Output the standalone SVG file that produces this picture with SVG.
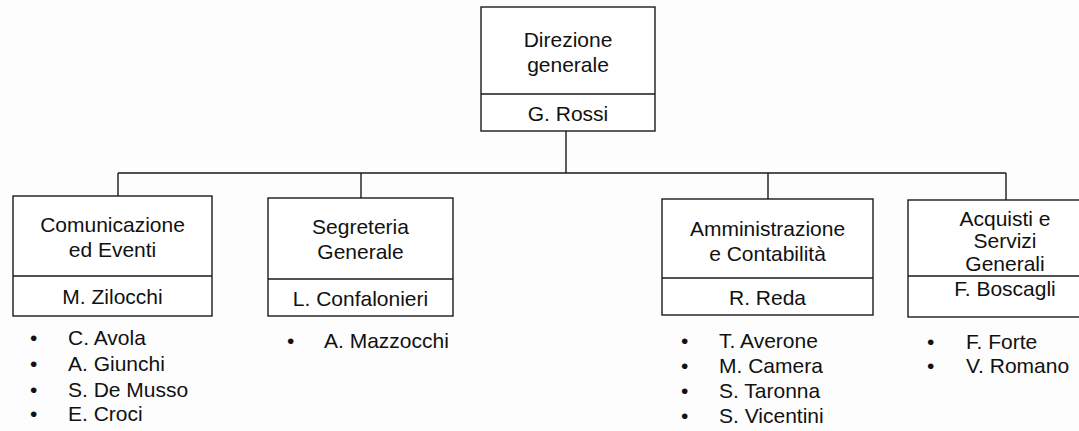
<svg xmlns="http://www.w3.org/2000/svg" width="1079" height="431" viewBox="0 0 1079 431">
<style>
.box{fill:#fff;stroke:#1a1a1a;stroke-width:1.4}
.ln{stroke:#1a1a1a;stroke-width:1.4;fill:none}
text{font-family:"Liberation Sans",Arial,sans-serif;font-size:21px;fill:#111}
.c{text-anchor:middle}
</style>
<rect width="1079" height="431" fill="#fdfdfd"/>
<g id="connectors">
<path class="ln" d="M566 131V173M118 173H1006M118 173V196M361 173V198M768 173V199M1006 173V200"/>
</g>
<g id="direzione">
<rect class="box" x="481" y="7" width="174" height="124"/>
<line class="ln" x1="481" y1="94" x2="655" y2="94"/>
<text class="c" x="568" y="47">Direzione</text>
<text class="c" x="568" y="72">generale</text>
<text class="c" x="568" y="121">G. Rossi</text>
</g>
<g id="comunicazione">
<rect class="box" x="13" y="196" width="199" height="120"/>
<line class="ln" x1="13" y1="276" x2="212" y2="276"/>
<text class="c" x="112.5" y="232">Comunicazione</text>
<text class="c" x="112.5" y="257">ed Eventi</text>
<text class="c" x="112.5" y="304">M. Zilocchi</text>
<text x="30" y="345">•</text><text x="68" y="345">C. Avola</text>
<text x="30" y="371">•</text><text x="68" y="371">A. Giunchi</text>
<text x="30" y="397">•</text><text x="68" y="397">S. De Musso</text>
<text x="30" y="421">•</text><text x="68" y="421">E. Croci</text>
</g>
<g id="segreteria">
<rect class="box" x="268" y="198" width="185" height="118"/>
<line class="ln" x1="268" y1="279" x2="453" y2="279"/>
<text class="c" x="360.5" y="234">Segreteria</text>
<text class="c" x="360.5" y="259">Generale</text>
<text class="c" x="360.5" y="306">L. Confalonieri</text>
<text x="287" y="348">•</text><text x="324" y="348">A. Mazzocchi</text>
</g>
<g id="amministrazione">
<rect class="box" x="662" y="199" width="211" height="116"/>
<line class="ln" x1="662" y1="278" x2="873" y2="278"/>
<text class="c" x="767.5" y="236">Amministrazione</text>
<text class="c" x="767.5" y="261">e Contabilità</text>
<text class="c" x="767.5" y="305">R. Reda</text>
<text x="681" y="348">•</text><text x="719" y="348">T. Averone</text>
<text x="681" y="373">•</text><text x="719" y="373">M. Camera</text>
<text x="681" y="398">•</text><text x="719" y="398">S. Taronna</text>
<text x="681" y="423">•</text><text x="719" y="423">S. Vicentini</text>
</g>
<g id="acquisti">
<rect class="box" x="908" y="200" width="195" height="117"/>
<line class="ln" x1="908" y1="276" x2="1103" y2="276"/>
<text class="c" x="1005" y="226">Acquisti e</text>
<text class="c" x="1005" y="248">Servizi</text>
<text class="c" x="1005" y="271">Generali</text>
<text class="c" x="1005" y="296">F. Boscagli</text>
<text x="927" y="349">•</text><text x="966" y="349">F. Forte</text>
<text x="927" y="373">•</text><text x="966" y="373">V. Romano</text>
</g>
</svg>
